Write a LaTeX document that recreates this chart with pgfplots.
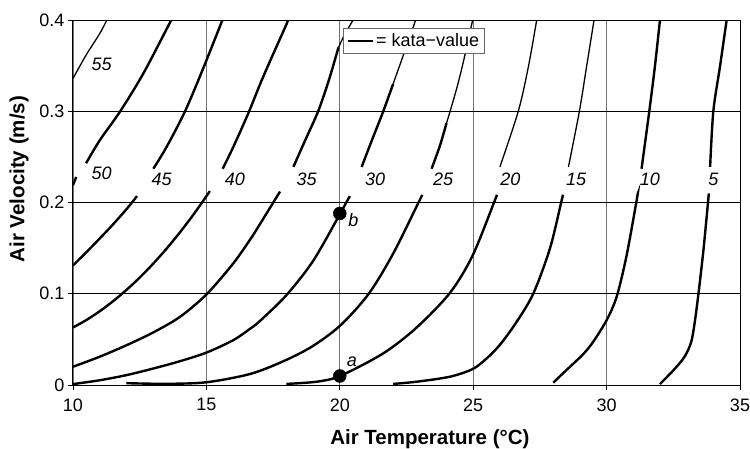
\documentclass[border=0pt]{standalone}
\usepackage{pgfplots}
\pgfplotsset{compat=1.18}
\usepackage{fontspec}
\setmainfont{Liberation Sans}
\pgfplotsset{
  kthick/.style={black, line width=2.4pt, smooth, tension=0.5},
  kthin/.style={black, line width=1.3pt, smooth, tension=0.5},
}
\begin{document}
\begin{tikzpicture}
\path[use as bounding box] (-73pt,-63pt) rectangle (677pt,385pt);
\begin{axis}[
  at={(0pt,0pt)}, anchor=south west,
  scale only axis, width=667pt, height=365pt,
  xmin=10, xmax=35, ymin=0, ymax=0.4,
  xtick={10,15,20,25,30,35}, ytick={0,0.1,0.2,0.3,0.4},
  xticklabels={10,15,20,25,30,35}, yticklabels={0,0.1,0.2,0.3,0.4},
  tick align=outside, major tick length=5pt,
  xtick pos=bottom, ytick pos=left,
  tick style={black, line width=0.8pt},
  axis line style={black, line width=1pt},
  grid=major,
  x grid style={black!55, line width=0.9pt},
  y grid style={black, line width=0.7pt},
  /pgf/number format/assume math mode=true,
  ticklabel style={font=\fontsize{18}{20}\selectfont, text=black},
  xticklabel style={yshift=-5pt},
  xlabel={Air Temperature (°C)},
  ylabel={Air Velocity (m/s)},
  xlabel style={at={(axis description cs:0.535,-0.162)}, anchor=base, font=\fontsize{20.5}{24}\selectfont\bfseries},
  ylabel style={at={(axis description cs:-0.081,0.564)}, anchor=center, font=\fontsize{20.5}{24}\selectfont\bfseries},
  legend style={at={(0.4052,0.977)}, anchor=north west, draw=black!60, fill=white, line width=0.8pt,
    font=\fontsize{18}{20}\selectfont, inner xsep=3pt, inner ysep=3pt},
  legend cell align=left,
]
\addlegendimage{black, line width=2.4pt, legend image code/.code={\draw[line width=2.4pt] (0pt,0pt) -- (25pt,0pt);}}
\addlegendentry{= kata−value\hspace{12pt}}

% 55
\addplot[kthin, forget plot] coordinates {(10,0.336) (10.5,0.362) (11.0,0.385) (11.27,0.4)};
% 50
\addplot[kthick, forget plot] coordinates {(10,0.219) (10.12,0.228)};
\addplot[kthick, forget plot] coordinates {(10.49,0.243) (11.01,0.2685) (11.76,0.2995) (12.64,0.3416) (13.67,0.3992) (13.69,0.4)};
% 45
\addplot[kthick, forget plot] coordinates {(10,0.131) (10.5,0.1455) (11,0.1605) (11.5,0.176) (12,0.1925) (12.4,0.207)};
\addplot[kthick, forget plot] coordinates {(13.01,0.237) (13.51,0.261) (14.2,0.3) (14.88,0.347) (15.6,0.4)};
% 40
\addplot[kthick, forget plot] coordinates {(10,0.063) (10.5,0.0712) (11,0.0808) (11.5,0.0918) (12,0.1041) (12.5,0.1177) (13,0.1328) (13.5,0.1492) (14,0.167) (14.5,0.1862) (14.91,0.2031) (15.13,0.2125)};
\addplot[kthick, forget plot] coordinates {(15.61,0.237) (16.01,0.261) (16.57,0.2977) (17.13,0.3379) (18.01,0.396) (18.05,0.4)};
% 35
\addplot[kthick, forget plot] coordinates {(10,0.020) (11,0.031) (12,0.0435) (13,0.0575) (14,0.0745) (15,0.0992) (16,0.133) (16.63,0.159) (17,0.176) (17.57,0.203) (17.76,0.212)};
\addplot[kthick, forget plot] coordinates {(18.26,0.239) (18.7,0.268) (19.19,0.3) (19.6,0.335) (19.95,0.37)};
\addplot[kthin, forget plot] coordinates {(19.95,0.37) (20.2,0.385) (20.5,0.4)};
% 30
\addplot[kthick, forget plot] coordinates {(10,0.001) (11,0.0052) (12,0.0108) (13,0.018) (14,0.026) (15,0.0355) (16,0.049) (16.63,0.0615) (17,0.070) (18,0.0985) (19,0.136) (19.98,0.186) (20.26,0.201) (20.38,0.207)};
\addplot[kthick, forget plot] coordinates {(20.82,0.239) (21.2,0.268) (21.63,0.3) (22.0,0.33)};
\addplot[kthin, forget plot] coordinates {(22.0,0.33) (22.4,0.363) (22.82,0.398) (22.85,0.4)};
% 25
\addplot[kthick, forget plot] coordinates {(12,0.002) (13.5,0.0013) (15,0.003) (16.63,0.012) (17.88,0.026) (18.95,0.042) (20.01,0.065) (21.07,0.0994) (22.0,0.144) (23.0,0.203) (23.07,0.207)};
\addplot[kthick, forget plot] coordinates {(23.44,0.237) (23.75,0.262) (24.0,0.287)};
\addplot[kthin, forget plot] coordinates {(24.0,0.287) (24.13,0.2995) (24.4,0.327) (24.63,0.354) (24.98,0.4)};
% 20
\addplot[kthick, forget plot] coordinates {(18,0.0012) (19.13,0.0036) (20.01,0.0099) (21.63,0.0347) (22.88,0.063) (24.13,0.101) (24.98,0.142) (25.82,0.203) (25.87,0.207)};
\addplot[kthin, forget plot] coordinates {(26.0,0.239) (26.69,0.3) (27.07,0.349) (27.38,0.4)};
% 15
\addplot[kthick, forget plot] coordinates {(22,0.0012) (22.88,0.0036) (24.13,0.0091) (24.98,0.0175) (25.5,0.029) (26.0,0.044) (26.6,0.068) (27.25,0.100) (27.88,0.150) (28.32,0.203) (28.36,0.208)};
\addplot[kthin, forget plot] coordinates {(28.57,0.239) (28.98,0.3) (29.25,0.349) (29.53,0.4)};
% 10
\addplot[kthick, forget plot] coordinates {(28.0,0.0025) (28.5,0.0165) (29.13,0.034) (29.5,0.0475) (30.0,0.071) (30.38,0.097) (30.75,0.142) (31.13,0.203) (31.16,0.209)};
\addplot[kthick, forget plot] coordinates {(31.31,0.237) (31.6,0.3) (31.81,0.349) (32.0,0.4)};
% 5
\addplot[kthick, forget plot] coordinates {(32,0.001) (32.5,0.016) (32.85,0.028) (33.05,0.038) (33.19,0.0493) (33.3,0.068) (33.44,0.0994) (33.63,0.148) (33.81,0.203) (33.83,0.21)};
\addplot[kthick, forget plot] coordinates {(33.88,0.239) (34.0,0.3) (34.25,0.349) (34.5,0.4)};

% points a and b
\addplot[only marks, mark=*, mark size=6.5pt, black, forget plot] coordinates {(20,0.0099) (20,0.188)};

\begin{scope}[font=\fontsize{18}{20}\selectfont\itshape]
\node[anchor=base] at (axis cs:11.07,0.3452) {55};
\node[anchor=base] at (axis cs:11.07,0.2247) {50};
\node[anchor=base] at (axis cs:13.32,0.2181) {45};
\node[anchor=base] at (axis cs:16.07,0.2181) {40};
\node[anchor=base] at (axis cs:18.76,0.2181) {35};
\node[anchor=base] at (axis cs:21.32,0.2181) {30};
\node[anchor=base] at (axis cs:23.87,0.2181) {25};
\node[anchor=base] at (axis cs:26.39,0.2181) {20};
\node[anchor=base] at (axis cs:28.86,0.2181) {15};
\node[anchor=base] at (axis cs:31.62,0.2181) {10};
\node[anchor=base] at (axis cs:34.0,0.2181) {5};
\node[anchor=base] at (axis cs:20.45,0.0201) {a};
\node[anchor=base] at (axis cs:20.51,0.1742) {b};
\end{scope}
\end{axis}
\end{tikzpicture}
\end{document}
